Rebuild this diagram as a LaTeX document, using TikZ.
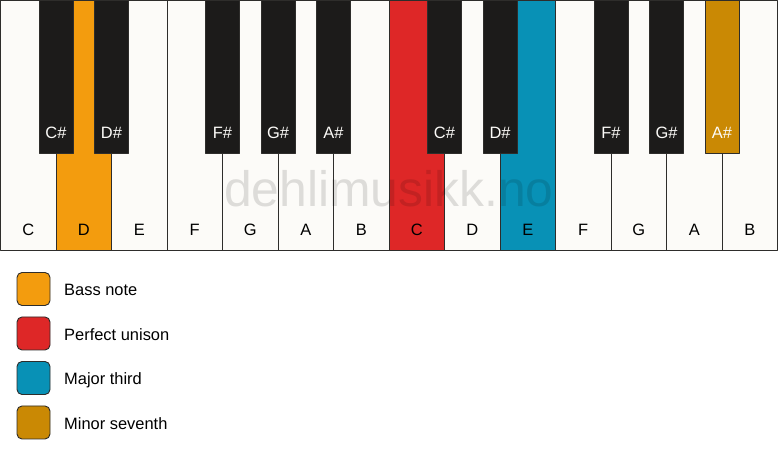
\documentclass[tikz,border=0pt]{standalone}
\usepackage{fontspec}
\setmainfont{Liberation Sans}
\usepackage{tikz}
\usetikzlibrary{positioning}

\definecolor{keywhite}{HTML}{FCFBF8}
\definecolor{keyblack}{HTML}{1C1B1A}
\definecolor{keyline}{HTML}{2E2D2B}
\definecolor{bass}{HTML}{F39C0E}
\definecolor{unison}{HTML}{DE2727}
\definecolor{third}{HTML}{0891B6}
\definecolor{seventh}{HTML}{CA8904}

\begin{document}
\begin{tikzpicture}[line join=bevel,
  whitekey/.style={draw=keyline,line width=0.9bp,fill=keywhite,minimum width=55.5bp,minimum height=249.5bp,inner sep=0pt},
  blackkey/.style={draw=keyline,line width=0.9bp,fill=keyblack,minimum width=34bp,minimum height=152.5bp,inner sep=0pt},
  whitename/.style={anchor=base,font=\fontsize{16.5}{19}\selectfont,text=black},
  blackname/.style={anchor=base,font=\fontsize{16.5}{19}\selectfont,text=keywhite},
  swatch/.style={draw=keyline,line width=0.9bp,rounded corners=5bp,minimum size=33bp,inner sep=0pt},
  legendtext/.style={anchor=base west,inner sep=0pt,font=\fontsize{16.5}{19}\selectfont},
]
\useasboundingbox[fill=white] (0bp,0bp) rectangle (778bp,461bp);
%%
\node (C1) at (28.25bp,335.75bp) [whitekey] {};
  \node (D1) at (83.75bp,335.75bp) [whitekey,fill=bass] {};
  \node (E1) at (139.25bp,335.75bp) [whitekey] {};
  \node (F1) at (194.75bp,335.75bp) [whitekey] {};
  \node (G1) at (250.25bp,335.75bp) [whitekey] {};
  \node (A1) at (305.75bp,335.75bp) [whitekey] {};
  \node (B1) at (361.25bp,335.75bp) [whitekey] {};
  \node (C2) at (416.75bp,335.75bp) [whitekey,fill=unison] {};
  \node (D2) at (472.25bp,335.75bp) [whitekey] {};
  \node (E2) at (527.75bp,335.75bp) [whitekey,fill=third] {};
  \node (F2) at (583.25bp,335.75bp) [whitekey] {};
  \node (G2) at (638.75bp,335.75bp) [whitekey] {};
  \node (A2) at (694.25bp,335.75bp) [whitekey] {};
  \node (B2) at (749.75bp,335.75bp) [whitekey] {};
%
\node (Cs1) at (56bp,384.25bp) [blackkey] {};
  \node (Ds1) at (111.5bp,384.25bp) [blackkey] {};
  \node (Fs1) at (222.5bp,384.25bp) [blackkey] {};
  \node (Gs1) at (278bp,384.25bp) [blackkey] {};
  \node (As1) at (333.5bp,384.25bp) [blackkey] {};
  \node (Cs2) at (444.5bp,384.25bp) [blackkey] {};
  \node (Ds2) at (500bp,384.25bp) [blackkey] {};
  \node (Fs2) at (611bp,384.25bp) [blackkey] {};
  \node (Gs2) at (666.5bp,384.25bp) [blackkey] {};
  \node (As2) at (722bp,384.25bp) [blackkey,fill=seventh] {};
%
\node (C1name) at (28.25bp,225bp) [whitename] {C};
  \node (D1name) at (83.75bp,225bp) [whitename] {D};
  \node (E1name) at (139.25bp,225bp) [whitename] {E};
  \node (F1name) at (194.75bp,225bp) [whitename] {F};
  \node (G1name) at (250.25bp,225bp) [whitename] {G};
  \node (A1name) at (305.75bp,225bp) [whitename] {A};
  \node (B1name) at (361.25bp,225bp) [whitename] {B};
  \node (C2name) at (416.75bp,225bp) [whitename] {C};
  \node (D2name) at (472.25bp,225bp) [whitename] {D};
  \node (E2name) at (527.75bp,225bp) [whitename] {E};
  \node (F2name) at (583.25bp,225bp) [whitename] {F};
  \node (G2name) at (638.75bp,225bp) [whitename] {G};
  \node (A2name) at (694.25bp,225bp) [whitename] {A};
  \node (B2name) at (749.75bp,225bp) [whitename] {B};
%
\node (Cs1name) at (56bp,322bp) [blackname] {C\#};
  \node (Ds1name) at (111.5bp,322bp) [blackname] {D\#};
  \node (Fs1name) at (222.5bp,322bp) [blackname] {F\#};
  \node (Gs1name) at (278bp,322bp) [blackname] {G\#};
  \node (As1name) at (333.5bp,322bp) [blackname] {A\#};
  \node (Cs2name) at (444.5bp,322bp) [blackname] {C\#};
  \node (Ds2name) at (500bp,322bp) [blackname] {D\#};
  \node (Fs2name) at (611bp,322bp) [blackname] {F\#};
  \node (Gs2name) at (666.5bp,322bp) [blackname] {G\#};
  \node (As2name) at (722bp,322bp) [blackname] {A\#};
%
\node (watermark) at (389bp,254bp) [anchor=base,font=\fontsize{50}{58}\selectfont,text=black,text opacity=0.12] {dehlimusikk.no};
%
\node (bassbox) at (33.5bp,172bp) [swatch,fill=bass] {};
  \node (unisonbox) at (33.5bp,127.5bp) [swatch,fill=unison] {};
  \node (thirdbox) at (33.5bp,83bp) [swatch,fill=third] {};
  \node (seventhbox) at (33.5bp,38.5bp) [swatch,fill=seventh] {};
  \node (basstext) at (64bp,165bp) [legendtext] {Bass note};
  \node (unisontext) at (64bp,120.5bp) [legendtext] {Perfect unison};
  \node (thirdtext) at (64bp,76bp) [legendtext] {Major third};
  \node (seventhtext) at (64bp,31.5bp) [legendtext] {Minor seventh};
%
\end{tikzpicture}
\end{document}
